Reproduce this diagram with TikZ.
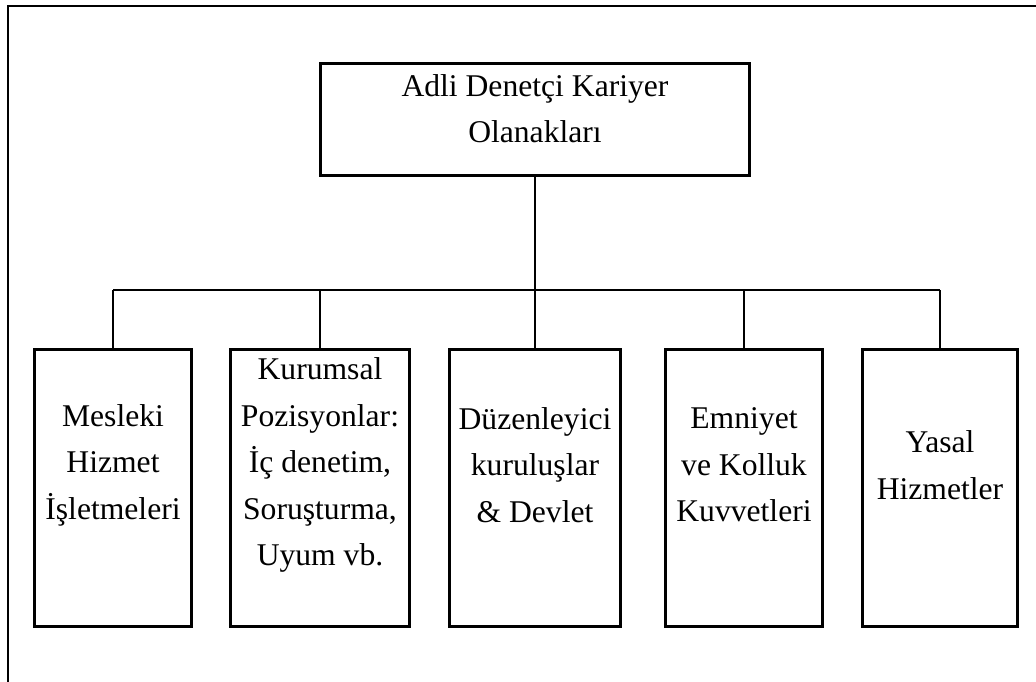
\documentclass[tikz,border=0pt]{standalone}
\usepackage{fontspec}
\setmainfont{Liberation Serif}
\usepackage{tikz}
\usetikzlibrary{positioning,calc}

\begin{document}
\begin{tikzpicture}[
  x=0.02cm,y=-0.02cm,
  font=\fontsize{18}{26.5}\selectfont,
  box/.style={draw,line width=1.7pt,minimum height=5.56cm,inner sep=0pt},
  lbl/.style={align=center,inner sep=0pt,yshift=0.46cm},
  conn/.style={line width=1.7pt}
]
\useasboundingbox (0,0) rectangle (1036,682);
% frame
\draw[line width=1.6pt] (8,682) -- (8,6) -- (1036,6);
% root
\node[draw,line width=1.7pt,minimum width=8.6cm,minimum height=2.26cm] (root) at (535,119.5) {};
\node[align=center,inner sep=0pt] (rootlbl) at ([yshift=0.22cm]root.center) {Adli Denetçi Kariyer\\Olanakları};
% branches
\node[box,minimum width=3.16cm] (mesleki) at (113,488) {};
\node[box,minimum width=3.6cm] (kurumsal) at (320,488) {};
\node[box,minimum width=3.44cm] (duzen) at (535,488) {};
\node[box,minimum width=3.16cm] (emniyet) at (744,488) {};
\node[box,minimum width=3.1cm] (yasal) at (940,488) {};
\node[lbl] (meslekilbl) at (mesleki.center) {Mesleki\\Hizmet\\İşletmeleri};
\node[lbl] (kurumsallbl) at (kurumsal.center) {Kurumsal\\Pozisyonlar:\\İç denetim,\\Soruşturma,\\Uyum vb.};
\node[lbl] (duzenlbl) at (duzen.center) {Düzenleyici\\kuruluşlar\\\& Devlet};
\node[lbl] (emniyetlbl) at (emniyet.center) {Emniyet\\ve Kolluk\\Kuvvetleri};
\node[lbl] (yasallbl) at (yasal.center) {Yasal\\Hizmetler};
% connectors
\coordinate (bar) at (535,290);
\draw[conn] (root.south) -- (root.south|-bar);
\draw[conn] (mesleki.north|-bar) -- (yasal.north|-bar);
\foreach \b in {mesleki,kurumsal,duzen,emniyet,yasal}
  \draw[conn] (\b.north) -- (\b.north|-bar);
\end{tikzpicture}
\end{document}
